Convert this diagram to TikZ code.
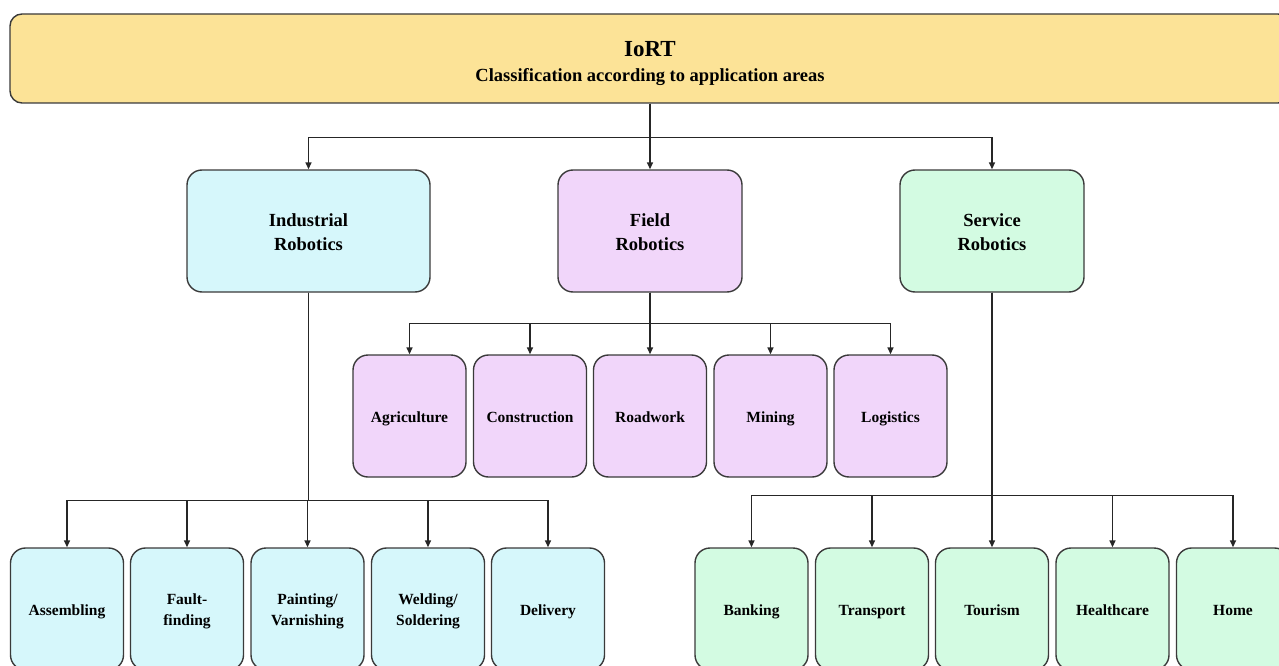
\documentclass[tikz,border=0pt]{standalone}
\usepackage{fontspec}
\setmainfont{Liberation Serif}
\usetikzlibrary{arrows.meta}
\definecolor{topc}{HTML}{FCE397}
\definecolor{cyanc}{HTML}{D6F7FB}
\definecolor{purc}{HTML}{F1D6FA}
\definecolor{grnc}{HTML}{D3FBE2}
\definecolor{edgec}{HTML}{3A3A3A}
\tikzset{
  box/.style={draw=edgec, line width=1.4pt, rounded corners=15pt, inner sep=0pt},
  midbox/.style={box, minimum height=122pt},
  leaf/.style={box, minimum width=113pt, minimum height=122pt},
  txt/.style={inner sep=0pt, align=center, execute at begin node=\strut, execute at end node=\strut},
  toptxt/.style={txt, font=\bfseries\fontsize{18.5}{25}\selectfont},
  midtxt/.style={txt, font=\bfseries\fontsize{18.5}{24}\selectfont},
  leaftxt/.style={txt, font=\bfseries\fontsize{15.5}{21}\selectfont},
  ind/.style={fill=cyanc}, fld/.style={fill=purc}, srv/.style={fill=grnc},
  arr/.style={draw=black!85, line width=1.5pt, -{Triangle[length=7pt,width=6pt]}}
}
\begin{document}
\begin{tikzpicture}[x=1pt,y=-1pt]
\useasboundingbox (0,0) rectangle (1279,666);
\clip (0,0) rectangle (1279,666);
\node[box, fill=topc, rounded corners=12pt, minimum width=1280pt, minimum height=89pt] (top) at (650,58.5) {};
\node[toptxt] (top-t) at ([yshift=-7pt]top.center)
  {{\fontsize{23}{25}\selectfont IoRT}\\Classification according to application areas};
% level 2
\node[midbox, ind, minimum width=243pt] (indr) at (308.5,231) {};
\node[midbox, fld, minimum width=184pt] (fldr) at (650,231) {};
\node[midbox, srv, minimum width=184pt] (srvr) at (992,231) {};
\node[midtxt] (indr-t) at ([yshift=-4.5pt]indr.center) {Industrial\\Robotics};
\node[midtxt] (fldr-t) at ([yshift=-4.5pt]fldr.center) {Field\\Robotics};
\node[midtxt] (srvr-t) at ([yshift=-4.5pt]srvr.center) {Service\\Robotics};
% field children
\node[leaf, fld] (agr) at (409.5,416) {};
\node[leaf, fld] (con) at (530,416) {};
\node[leaf, fld] (road) at (650,416) {};
\node[leaf, fld] (min) at (770.5,416) {};
\node[leaf, fld] (log) at (890.5,416) {};
\node[leaftxt] (agr-t) at ([yshift=-2pt]agr.center) {Agriculture};
\node[leaftxt] (con-t) at ([yshift=-2pt]con.center) {Construction};
\node[leaftxt] (road-t) at ([yshift=-2pt]road.center) {Roadwork};
\node[leaftxt] (min-t) at ([yshift=-2pt]min.center) {Mining};
\node[leaftxt] (log-t) at ([yshift=-2pt]log.center) {Logistics};
% industrial children
\node[leaf, ind] (asm) at (67,609) {};
\node[leaf, ind] (flt) at (187,609) {};
\node[leaf, ind] (pnt) at (307.5,609) {};
\node[leaf, ind] (wld) at (428,609) {};
\node[leaf, ind] (dlv) at (548,609) {};
\node[leaftxt] (asm-t) at ([yshift=-2pt]asm.center) {Assembling};
\node[leaftxt] (flt-t) at ([yshift=-4pt]flt.center) {Fault-\\finding};
\node[leaftxt] (pnt-t) at ([yshift=-4pt]pnt.center) {Painting/\\Varnishing};
\node[leaftxt] (wld-t) at ([yshift=-4pt]wld.center) {Welding/\\Soldering};
\node[leaftxt] (dlv-t) at ([yshift=-2pt]dlv.center) {Delivery};
% service children
\node[leaf, srv] (bnk) at (751.5,609) {};
\node[leaf, srv] (trn) at (872,609) {};
\node[leaf, srv] (tour) at (992,609) {};
\node[leaf, srv] (hlt) at (1112.5,609) {};
\node[leaf, srv] (home) at (1233,609) {};
\node[leaftxt] (bnk-t) at ([yshift=-2pt]bnk.center) {Banking};
\node[leaftxt] (trn-t) at ([yshift=-2pt]trn.center) {Transport};
\node[leaftxt] (tour-t) at ([yshift=-2pt]tour.center) {Tourism};
\node[leaftxt] (hlt-t) at ([yshift=-2pt]hlt.center) {Healthcare};
\node[leaftxt] (home-t) at ([yshift=-2pt]home.center) {Home};
% connectors
\foreach \c in {indr,fldr,srvr} \draw[arr] (top.south) -- ++(0,34) -| (\c.north);
\foreach \c in {agr,con,road,min,log} \draw[arr] (fldr.south) -- ++(0,31) -| (\c.north);
\foreach \c in {asm,flt,pnt,wld,dlv} \draw[arr] (indr.south) -- ++(0,208) -| (\c.north);
\foreach \c in {bnk,trn,tour,hlt,home} \draw[arr] (srvr.south) -- ++(0,203) -| (\c.north);
\end{tikzpicture}
\end{document}
